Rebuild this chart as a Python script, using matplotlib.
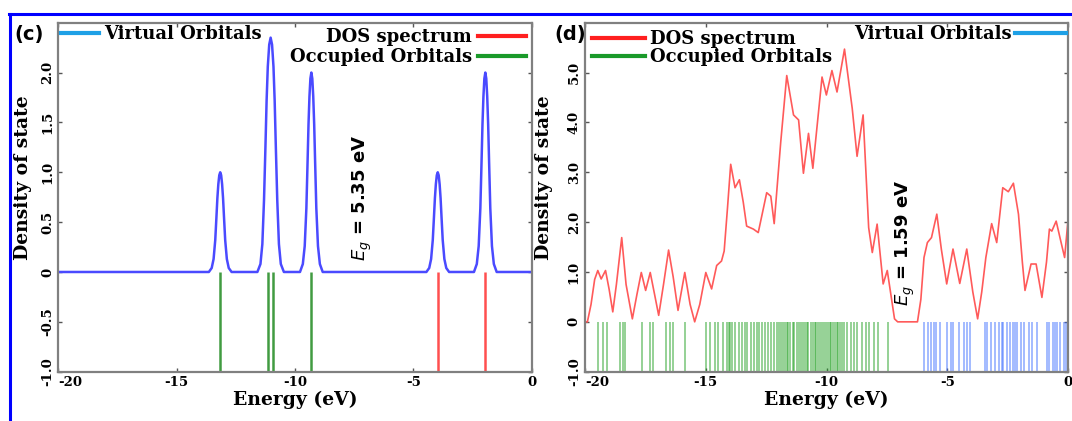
import matplotlib
matplotlib.use("Agg")
import matplotlib.pyplot as plt
from matplotlib.lines import Line2D

plt.rcParams['axes.unicode_minus'] = False

# ---- panel (c): broadened DOS curve ----
c_energy = [-20.0,
            -13.64, -13.52, -13.44, -13.37, -13.32, -13.28, -13.24, -13.20, -13.16,
            -13.12, -13.08, -13.04, -13.00, -12.95, -12.88, -12.80, -12.68,
            -11.59, -11.46, -11.38, -11.31, -11.25, -11.20, -11.15, -11.09, -11.03,
            -10.97, -10.91, -10.86, -10.81, -10.75, -10.68, -10.60, -10.47,
            -9.79, -9.67, -9.59, -9.52, -9.47, -9.43, -9.39, -9.35, -9.31,
            -9.27, -9.23, -9.19, -9.15, -9.10, -9.03, -8.95, -8.83,
            -4.45, -4.33, -4.25, -4.18, -4.13, -4.09, -4.05, -4.01, -3.97,
            -3.93, -3.89, -3.85, -3.81, -3.76, -3.69, -3.61, -3.49,
            -2.44, -2.32, -2.24, -2.17, -2.12, -2.08, -2.04, -2.00, -1.96,
            -1.92, -1.88, -1.84, -1.80, -1.75, -1.68, -1.60, -1.48,
            0.0]
c_dos = [0.0,
         0, 0.04, 0.13, 0.32, 0.55, 0.74, 0.88, 0.97, 1.0,
         0.97, 0.88, 0.74, 0.55, 0.32, 0.13, 0.04, 0,
         0, 0.08, 0.28, 0.72, 1.25, 1.72, 2.06, 2.28, 2.35,
         2.28, 2.06, 1.72, 1.25, 0.72, 0.28, 0.08, 0,
         0, 0.08, 0.26, 0.64, 1.10, 1.48, 1.76, 1.94, 2.0,
         1.94, 1.76, 1.48, 1.10, 0.64, 0.26, 0.08, 0,
         0, 0.04, 0.13, 0.32, 0.55, 0.74, 0.88, 0.97, 1.0,
         0.97, 0.88, 0.74, 0.55, 0.32, 0.13, 0.04, 0,
         0, 0.08, 0.26, 0.64, 1.10, 1.48, 1.76, 1.94, 2.0,
         1.94, 1.76, 1.48, 1.10, 0.64, 0.26, 0.08, 0,
         0.0]
c_occupied = [-13.16, -11.16, -10.94, -9.31]
c_virtual = [-3.97, -1.96]

# ---- panel (d) ----
d_energy = [-20.0, -19.9, -19.75, -19.6, -19.47, -19.33, -19.15, -19.0, -18.85, -18.7,
            -18.48, -18.3, -18.04, -17.85, -17.67, -17.49, -17.30, -17.12, -16.95,
            -16.75, -16.54, -16.35, -16.15, -15.87, -15.65, -15.46, -15.25, -15.00,
            -14.76, -14.55, -14.35, -14.24, -14.1, -13.97, -13.79, -13.61, -13.45,
            -13.31, -13.03, -12.83, -12.65, -12.48, -12.31, -12.17, -11.9, -11.65,
            -11.37, -11.16, -10.96, -10.75, -10.57, -10.19, -10.01, -9.78, -9.57,
            -9.26, -8.94, -8.74, -8.49, -8.26, -8.11, -7.91, -7.66, -7.49, -7.19,
            -7.06, -6.24, -6.1, -5.97, -5.83, -5.66, -5.44, -5.25, -5.03, -4.77,
            -4.49, -4.20, -3.95, -3.75, -3.58, -3.41, -3.17, -2.96, -2.71, -2.48,
            -2.27, -2.06, -1.9, -1.79, -1.54, -1.33, -1.09, -0.9, -0.78, -0.68,
            -0.50, -0.3, -0.15, 0.0]
d_dos = [0, 0, 0.35, 0.85, 1.03, 0.86, 1.03, 0.65, 0.20, 0.75,
         1.69, 0.75, 0.06, 0.55, 0.99, 0.63, 0.99, 0.55, 0.13,
         0.75, 1.44, 0.90, 0.23, 0.99, 0.35, 0, 0.35, 0.99,
         0.66, 1.13, 1.22, 1.42, 2.30, 3.16, 2.69, 2.85, 2.40,
         1.92, 1.86, 1.79, 2.20, 2.59, 2.52, 1.97, 3.60, 4.94,
         4.15, 4.05, 2.98, 3.78, 3.08, 4.91, 4.55, 5.04, 4.61,
         5.47, 4.28, 3.32, 4.15, 1.89, 1.39, 1.96, 0.76, 1.03, 0.06,
         0, 0, 0.45, 1.29, 1.59, 1.69, 2.16, 1.45, 0.76, 1.46,
         0.77, 1.46, 0.60, 0.06, 0.60, 1.29, 1.97, 1.59, 2.69, 2.61,
         2.78, 2.16, 1.20, 0.63, 1.16, 1.16, 0.49, 1.20, 1.86, 1.82,
         2.02, 1.60, 1.29, 2.09]

d_occupied = [-19.47, -19.26, -19.09, -18.57, -18.43, -18.33, -17.65, -17.29, -17.19,
              -16.63, -16.48, -16.37, -15.87, -14.99, -14.84, -14.63, -14.49, -14.30,
              -14.13, -14.05, -14.01, -13.92, -13.78, -13.64, -13.49, -13.39, -13.28,
              -13.14, -13.00, -12.88, -12.78, -12.68, -12.54, -12.43, -12.29, -12.17,
              -12.04, -11.97, -11.90, -11.82, -11.74, -11.66, -11.58, -11.50, -11.41,
              -11.33, -11.24, -11.14, -11.06, -10.98, -10.90, -10.82, -10.75, -10.66,
              -10.58, -10.50, -10.43, -10.35, -10.26, -10.18, -10.10, -10.03, -9.96,
              -9.88, -9.80, -9.72, -9.65, -9.58, -9.51, -9.44, -9.37, -9.30, -9.15,
              -9.00, -8.87, -8.73, -8.52, -8.37, -8.23, -8.02, -7.87, -7.44]
d_virtual = [-5.95, -5.81, -5.67, -5.57, -5.46, -5.31, -5.03, -4.86, -4.77, -4.53,
             -4.32, -4.20, -4.06, -3.46, -3.35, -3.18, -3.04, -2.87, -2.75, -2.68,
             -2.54, -2.40, -2.30, -2.21, -2.11, -1.97, -1.83, -1.61, -1.50, -1.30,
             -0.90, -0.79, -0.65, -0.55, -0.45, -0.33, -0.19, -0.08]

x_ticks = [-20, -15, -10, -5, 0]
x_ticklabels = ['-20', '-15', '-10', '-5', '0']
c_yticks = [-1.0, -0.5, 0, 0.5, 1.0, 1.5, 2.0]
c_yticklabels = ['-1.0', '-0.5', '0', '0.5', '1.0', '1.5', '2.0']
d_yticks = [-1, 0, 1, 2, 3, 4, 5]
d_yticklabels = ['-1.0', '0', '1.0', '2.0', '3.0', '4.0', '5.0']

serif = 'DejaVu Serif'
col_virt = '#1ea0e6'
col_dos = '#ff1f1f'
col_occ = '#1a9a2a'

fig = plt.figure(figsize=(10.72, 4.21), dpi=100)
ax_c = fig.add_axes([0.0544, 0.1171, 0.4416, 0.829])
ax_d = fig.add_axes([0.5457, 0.1171, 0.4508, 0.829])


def style_axes(ax, yticks, yticklabels, ylim, ylab_x):
    ax.set_xlim(-20, 0)
    ax.set_ylim(*ylim)
    ax.set_xticks(x_ticks)
    ax.set_xticklabels(x_ticklabels, fontfamily=serif, fontweight='bold', fontsize=9.5)
    ax.get_xticklabels()[0].set_ha('left')
    ax.set_yticks(yticks)
    ax.set_yticklabels(yticklabels, fontfamily=serif, fontweight='bold', fontsize=9.5,
                       rotation=90, va='center')
    ax.tick_params(direction='in', length=3, width=1, color='#555555',
                   top=True, right=True, pad=3)
    for s in ax.spines.values():
        s.set_color('#808080')
        s.set_linewidth(1.6)
    ax.set_xlabel('Energy (eV)', fontfamily=serif, fontweight='bold', fontsize=13.5,
                  labelpad=1)
    ax.set_ylabel('Density of state', fontfamily=serif, fontweight='bold', fontsize=13.5)
    ax.yaxis.set_label_coords(ylab_x, 0.555)


# panel (c)
ax_c.plot(c_energy, c_dos, color='#4a4aff', lw=1.8)
ax_c.vlines(c_occupied, -1, 0, color='#1f8a1f', lw=1.8, alpha=0.85)
ax_c.vlines(c_virtual, -1, 0, color='#ff3030', lw=1.8, alpha=0.85)
style_axes(ax_c, c_yticks, c_yticklabels, (-1, 2.5), -0.056)
ax_c.text(-7.17, 0.74, r'$E_g$ = 5.35 eV', rotation=90, ha='center', va='center',
          fontsize=13, fontweight='bold')

leg_font = {'family': serif, 'weight': 'bold', 'size': 13}
h_virt = Line2D([], [], color=col_virt, lw=3)
h_dos = Line2D([], [], color=col_dos, lw=3)
h_occ = Line2D([], [], color=col_occ, lw=3)

leg1 = ax_c.legend([h_virt], ['Virtual Orbitals'], loc='upper left', frameon=False,
                   prop=leg_font, handlelength=2.1, handletextpad=0.3,
                   borderaxespad=0.05, borderpad=0.1)
ax_c.add_artist(leg1)
ax_c.legend([h_dos, h_occ], ['DOS spectrum', 'Occupied Orbitals'], loc='upper right',
            frameon=False, prop=leg_font, markerfirst=False, handlelength=2.7,
            handletextpad=0.3, borderaxespad=0.05, borderpad=0.25, labelspacing=0.1)

# panel (d)
ax_d.plot(d_energy, d_dos, color='#ff5a5a', lw=1.2)
ax_d.vlines(d_occupied, -1, 0, color='#1a9e1a', lw=1.3, alpha=0.5)
ax_d.vlines(d_virtual, -1, 0, color='#3a6cff', lw=1.3, alpha=0.5)
style_axes(ax_d, d_yticks, d_yticklabels, (-1, 6), -0.066)
ax_d.text(-6.76, 1.59, r'$E_g$ = 1.59 eV', rotation=90, ha='center', va='center',
          fontsize=13, fontweight='bold')

leg3 = ax_d.legend([h_dos, h_occ], ['DOS spectrum', 'Occupied Orbitals'], loc='upper left',
                   frameon=False, prop=leg_font, handlelength=2.9, handletextpad=0.3,
                   borderaxespad=0.3, borderpad=0.1, labelspacing=0.0)
ax_d.add_artist(leg3)
ax_d.legend([h_virt], ['Virtual Orbitals'], loc='upper right', frameon=False,
            prop=leg_font, markerfirst=False, handlelength=2.8, handletextpad=0.2,
            borderaxespad=0.05, borderpad=0.1)

# panel letters
fig.text(0.013, 0.905, '(c)', fontsize=14, fontweight='bold')
fig.text(0.517, 0.905, '(d)', fontsize=14, fontweight='bold')

# blue frame lines
fig.add_artist(Line2D([9 / 1072, 1], [1 - 14 / 421, 1 - 14 / 421], color='#0000ff', lw=2.2))
fig.add_artist(Line2D([10 / 1072, 10 / 1072], [0, 1 - 14 / 421], color='#0000ff', lw=2.2))

fig.savefig('out.png', dpi=100)
